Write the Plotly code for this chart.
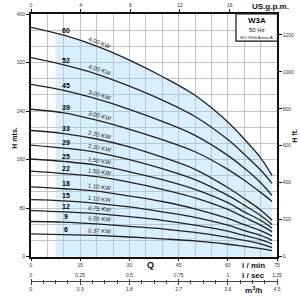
import numpy as np
import plotly.graph_objects as go

# ---------------- data ----------------
Q = [0, 10, 20, 30, 40, 50, 60, 65, 70, 73.5]          # l/min
STAGES = [60, 52, 45, 39, 33, 29, 25, 22, 18, 15, 12, 9, 6]
POWER = ["4.00 KW", "4.00 KW", "3.00 KW", "3.00 KW", "2.20 KW", "2.20 KW",
         "1.50 KW", "1.50 KW", "1.10 KW", "1.10 KW", "0.75 KW", "0.55 KW", "0.37 KW"]
H60 = [378, 365, 347, 324, 297, 266, 222, 194, 163, 134]
H52 = [328, 316, 301, 281, 258, 231, 193, 169, 143, 121]
H45 = [284, 274, 260, 243, 223, 200, 167, 146, 122, 101]
H39 = [243, 237, 225, 210, 193, 173, 144, 126, 106, 91]
H33 = [208, 203, 194, 181, 164, 144, 114, 96, 77, 60]
H29 = [184, 179, 172, 160, 145, 127, 101, 85, 68, 53]
H25 = [161, 157, 151, 140, 127, 111, 89, 74, 60, 47]
H22 = [141, 137, 132, 123, 111, 97, 78, 65, 52, 41]
H18 = [115, 112, 108, 100, 91, 79, 63, 53, 43, 34]
H15 = [94, 92, 88, 82, 74, 65, 52, 43, 35, 27]
H12 = [76, 74, 71, 66, 60, 52, 42, 35, 28, 21]
H9 = [58, 57, 54, 50, 46, 40, 32, 27, 21, 15]
H6 = [37.5, 36.5, 35, 32.5, 29.5, 26, 20.5, 17, 13.5, 10]
CURVES = [H60, H52, H45, H39, H33, H29, H25, H22, H18, H15, H12, H9, H6]
SHADE_Q_MIN = 7.5
STAGE_LABEL_Q = 10.6
POWER_LABEL_Q = 21

Q_MAX = 75
H_MAX = 400
GPM_PER_LMIN = 1 / 3.785411784
FT_PER_M = 3.28084

# ---------------- geometry ----------------
W, HGT = 300, 300
ML, MR, MT, MB = 31, 23, 14, 2
PW = W - ML - MR
PH = HGT - MT - MB
PLOT_BOTTOM_PX = 259.3
YDOM0 = (HGT - MB - PLOT_BOTTOM_PX) / PH


def px_x(px):
    return (px - ML) / PW


def px_y(py):
    return (HGT - MB - py) / PH


FONT = "Liberation Sans, Arial, sans-serif"
fig = go.Figure()

# shaded operating area
q_sh = [SHADE_Q_MIN] + [q for q in Q if q > SHADE_Q_MIN]
h_sh = [float(np.interp(SHADE_Q_MIN, Q, H60))] + [h for q, h in zip(Q, H60) if q > SHADE_Q_MIN]
fig.add_trace(go.Scatter(x=q_sh, y=h_sh, mode="lines",
                         line=dict(width=0, shape="spline"),
                         fill="tozeroy", fillcolor="rgba(150,210,247,0.36)",
                         hoverinfo="skip", showlegend=False))

for H in CURVES:
    fig.add_trace(go.Scatter(x=Q, y=H, mode="lines",
                             line=dict(color="#222222", width=1.3, shape="spline"),
                             hoverinfo="skip", showlegend=False))

# empty traces so the extra axes exist
fig.add_trace(go.Scatter(x=[], y=[], xaxis="x2", yaxis="y2", showlegend=False))
fig.add_trace(go.Scatter(x=[], y=[], xaxis="x3", yaxis="y", showlegend=False))
fig.add_trace(go.Scatter(x=[], y=[], xaxis="x4", yaxis="y", showlegend=False))

sx = PW / Q_MAX
sy = (PLOT_BOTTOM_PX - MT) / H_MAX
ann = []
for n, H, p in zip(STAGES, CURVES, POWER):
    ann.append(dict(x=STAGE_LABEL_Q, y=float(np.interp(STAGE_LABEL_Q, Q, H)), xref="x", yref="y",
                    text=f"<b>{n}</b>", showarrow=False, yanchor="bottom", yshift=0,
                    font=dict(size=7, color="#000000", family=FONT)))
    slope = (np.interp(POWER_LABEL_Q + 8, Q, H) - np.interp(POWER_LABEL_Q - 8, Q, H)) / 16
    ang = float(np.degrees(np.arctan(-slope * sy / sx)))
    ann.append(dict(x=POWER_LABEL_Q, y=float(np.interp(POWER_LABEL_Q, Q, H)), xref="x", yref="y",
                    text=p, showarrow=False, yanchor="middle", yshift=5, textangle=ang,
                    font=dict(size=6, color="#222", family=FONT)))

def label(text, px, py, size=8, angle=0, xanchor="center"):
    ann.append(dict(x=px_x(px), y=px_y(py), xref="paper", yref="paper", text=text,
                    showarrow=False, textangle=angle, xanchor=xanchor, yanchor="middle",
                    font=dict(size=size, color="#111", family=FONT)))

label("<b>Q</b>", 150, 268, 9)
label("<b>l / min</b>", 253, 268, 8)
label("<b>l / sec</b>", 253, 278, 8)
label("<b>m<sup>3</sup>/h</b>", 253, 293, 8)
label("<b>US.g.p.m.</b>", 270, 6, 8)
label("<b>H mts.</b>", 15, 140, 7, -90)
label("<b>H ft.</b>", 295, 137, 7, -90)
label("<b>W3A</b>", 256.5, 20.5, 8)
label("50 Hz", 256.5, 30, 6)
label("ISO 9906 Annex A", 256.5, 37.5, 4)

shapes = [dict(type="rect", xref="paper", yref="paper",
               x0=px_x(236), x1=px_x(277.5), y0=px_y(41.5), y1=px_y(14),
               line=dict(color="#111", width=1.2), fillcolor="white", layer="above")]

tickfont = dict(size=5, color="#333", family=FONT)
grid = "rgba(190,190,190,0.9)"
fig.update_layout(
    width=W, height=HGT, margin=dict(l=ML, r=MR, t=MT, b=MB),
    paper_bgcolor="white", plot_bgcolor="white", showlegend=False,
    annotations=ann, shapes=shapes,
    xaxis=dict(domain=[0, 1], range=[0, Q_MAX], dtick=15, tick0=0, showgrid=True,
               gridcolor=grid, gridwidth=0.7, minor=dict(dtick=5, showgrid=True, gridcolor=grid, gridwidth=0.7),
               showline=True, linecolor="#111", linewidth=2, ticks="outside", ticklen=2,
               tickcolor="#111", tickfont=tickfont, zeroline=False, anchor="y", fixedrange=True),
    yaxis=dict(domain=[YDOM0, 1], range=[0, H_MAX], dtick=80, tick0=0, showgrid=True,
               gridcolor=grid, gridwidth=0.7,
               minor=dict(dtick=80 / 3, showgrid=True, gridcolor=grid, gridwidth=0.7),
               showline=True, linecolor="#111", linewidth=2, ticks="outside", ticklen=3,
               tickcolor="#111", tickfont=tickfont, zeroline=False, anchor="x", fixedrange=True),
    xaxis2=dict(overlaying="x", side="top", anchor="y", range=[0, Q_MAX * GPM_PER_LMIN],
                dtick=4, tick0=0, showgrid=False, showline=True, linecolor="#111", linewidth=1.5,
                ticks="outside", ticklen=3, tickcolor="#111", tickfont=tickfont, zeroline=False),
    yaxis2=dict(overlaying="y", side="right", anchor="x", range=[0, H_MAX * FT_PER_M],
                dtick=200, tick0=0, showgrid=False, showline=True, linecolor="#111", linewidth=1.5,
                ticks="outside", ticklen=3, tickcolor="#111", tickfont=tickfont, zeroline=False),
    xaxis3=dict(overlaying="x", side="top", anchor="free", position=px_y(284.3),
                range=[0, Q_MAX / 60], dtick=0.25, tick0=0, showgrid=False, showline=True,
                linecolor="#444", linewidth=0.8, ticks="outside", ticklen=3, tickcolor="#444",
                minor=dict(ticks="outside", dtick=0.0625, ticklen=1.5, tickcolor="#444"),
                tickfont=tickfont, zeroline=False),
    xaxis4=dict(overlaying="x", side="bottom", anchor="free", position=px_y(284.3),
                range=[0, Q_MAX * 0.06], dtick=0.9, tick0=0, showgrid=False, showline=False,
                ticks="outside", ticklen=3, tickcolor="#444",
                minor=dict(ticks="outside", dtick=0.225, ticklen=1.5, tickcolor="#444"),
                tickfont=tickfont, zeroline=False),
)

fig.write_html("out.html")
